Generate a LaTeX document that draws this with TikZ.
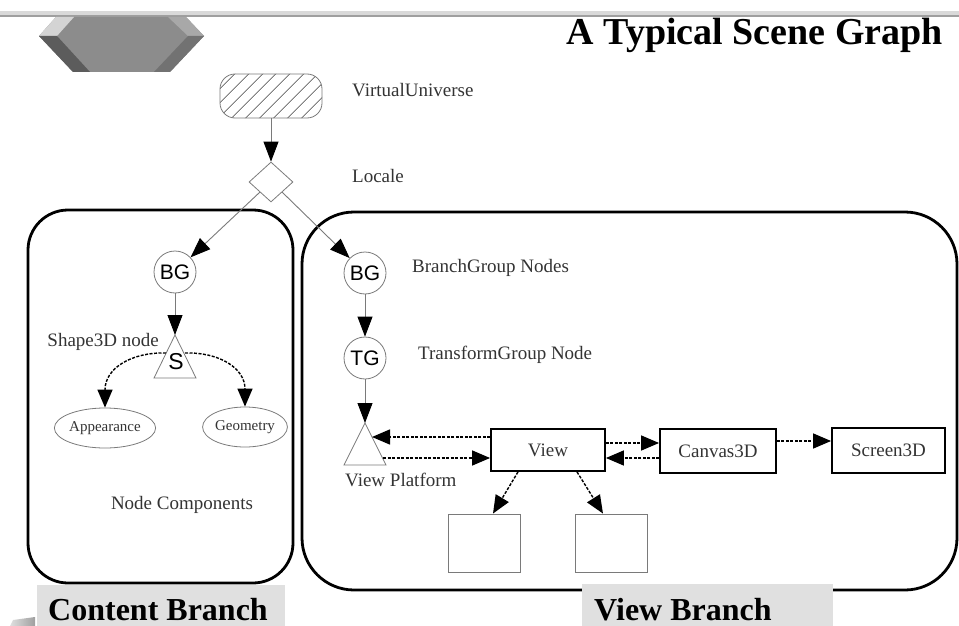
\documentclass[tikz,border=0pt]{standalone}
\usepackage{fontspec}
\setmainfont{Liberation Serif}
\newfontfamily\sansf{Liberation Sans}
\usetikzlibrary{arrows.meta,shapes.geometric,patterns.meta}
\definecolor{lblgray}{HTML}{E0E0E0}
\definecolor{linegray}{HTML}{7A7A7A}
\definecolor{txtgray}{HTML}{333333}
\definecolor{hexmid}{HTML}{8C8C8C}
\definecolor{hexlight}{HTML}{D4D4D4}
\definecolor{hexdark}{HTML}{5C5C5C}
\definecolor{hexrtop}{HTML}{A8A8A8}
\definecolor{hexrbot}{HTML}{727272}
\begin{document}
\begin{tikzpicture}[x=1pt,y=-1pt,
  lbl/.style={font=\fontsize{19}{22}\selectfont, text=txtgray, inner sep=0pt},
  circ/.style={circle, draw=linegray, line width=0.8pt, minimum size=42pt, inner sep=0pt, font=\sansf\fontsize{21}{21}\selectfont},
  tree/.style={draw=linegray, line width=0.9pt, -{Triangle[length=20pt,width=15pt,color=black]}},
  dasharrow/.style={draw=black, line width=1.4pt, dash pattern=on 3pt off 1.5pt, -{Triangle[length=18pt,width=15pt]}},
  bbox/.style={draw=black, line width=1.8pt, inner sep=0pt, font=\fontsize{19}{22}\selectfont, text=txtgray},
  thinbox/.style={draw=linegray, line width=0.9pt, minimum width=72pt, minimum height=58pt, inner sep=0pt},
  frame/.style={draw=black, line width=2.8pt, inner sep=0pt},
  tag/.style={fill=lblgray, inner sep=0pt},
  tagtext/.style={font=\bfseries\fontsize{32}{32}\selectfont, inner sep=0pt, text depth=0pt},
  ell/.style={ellipse, draw=linegray, line width=0.8pt, minimum height=40pt, inner sep=0pt, font=\fontsize{15}{15}\selectfont, text=txtgray},
  tri/.style={draw=linegray, line width=0.8pt}
]
\useasboundingbox (0,0) rectangle (959,626);
% top bar
\fill[gray!30] (0,11) rectangle (959,15);
\fill[gray!75] (0,15) rectangle (959,17);
% hexagon
\fill[hexmid] (39,36) -- (56,17) -- (186,17) -- (204,36) -- (170,72) -- (73,72) -- cycle;
\fill[hexlight] (39,36) -- (56,17) -- (74,17) -- (57,36) -- cycle;
\fill[hexdark] (39,36) -- (57,36) -- (90,72) -- (73,72) -- cycle;
\fill[hexrtop] (186,17) -- (204,36) -- (188,36) -- (168,17) -- cycle;
\fill[hexrbot] (204,36) -- (170,72) -- (154,72) -- (188,36) -- cycle;
% bottom-left fragment
\shade[left color=gray!25, right color=gray!75] (10,626) -- (13,620) -- (35,617) -- (35,626) -- cycle;
% title
\node[font=\bfseries\fontsize{38}{38}\selectfont, anchor=base east, inner sep=0pt] (title) at (943,45) {A Typical Scene Graph};
% frames
\node[frame, rounded corners=40pt, minimum width=265pt, minimum height=373pt] (content) at (160.5,396.5) {};
\node[frame, rounded corners=52pt, minimum width=655pt, minimum height=378pt] (viewbr) at (629.5,401) {};
\node[tag, minimum width=248pt, minimum height=41pt, anchor=north west] (ctag) at (37,585) {};
\node[tagtext, anchor=base west] (ctext) at (48,620) {Content Branch};
\node[tag, minimum width=251pt, minimum height=42pt, anchor=north west] (vtag) at (582,584) {};
\node[tagtext, anchor=base west] (vtext) at (594,620) {View Branch};
% top nodes
\node[draw=linegray, line width=0.8pt, rounded corners=15pt, minimum width=102pt, minimum height=44pt,
      pattern={Lines[angle=45,distance=10.5pt,line width=0.8pt]}, pattern color=darkgray] (vu) at (271,96) {};
\node[diamond, draw=linegray, line width=0.8pt, minimum width=44pt, minimum height=40pt, inner sep=0pt] (loc) at (271,182) {};
\node[lbl, anchor=west] (vulbl) at (352,90) {VirtualUniverse};
\node[lbl, anchor=west] (loclbl) at (352,176) {Locale};
% content branch
\node[circ] (bg1) at (175,272) {BG};
\coordinate (sA) at (175,335);
\coordinate (sBL) at (154,378);
\coordinate (sBR) at (196,378);
\draw[tri] (sA) -- (sBL) -- (sBR) -- cycle;
\node[font=\sansf\fontsize{23}{23}\selectfont, inner sep=0pt] (s) at (176,362) {S};
\node[lbl, anchor=east] (shlbl) at (159,342) {Shape3D node};
\node[ell, minimum width=86pt] (app) at (105,428) {Appearance};
\node[ell, minimum width=84pt] (geo) at (245,427) {Geometry};
\node[lbl] (nclbl) at (182,505) {Node Components};
% view branch
\node[circ] (bg2) at (365,273) {BG};
\node[circ] (tg) at (365,358) {TG};
\node[lbl, anchor=west] (bglbl) at (412,268) {BranchGroup Nodes};
\node[lbl, anchor=west] (tglbl) at (418,355) {TransformGroup Node};
\coordinate (vA) at (365,423);
\coordinate (vBL) at (344,465);
\coordinate (vBR) at (386,465);
\draw[tri] (vA) -- (vBL) -- (vBR) -- cycle;
\node[lbl, anchor=west] (vplbl) at (345,480) {View Platform};
\node[bbox, minimum width=114pt, minimum height=42pt] (view) at (548,450) {View};
\node[bbox, minimum width=116pt, minimum height=44pt] (canvas) at (718,451) {Canvas3D};
\node[bbox, minimum width=113pt, minimum height=45pt] (screen) at (888.5,450.5) {Screen3D};
\node[thinbox] (b1) at (484,543) {};
\node[thinbox] (b2) at (611,543) {};
% tree connectors
\draw[tree] (vu) -- (loc);
\draw[tree] (loc.south west) -- (bg1);
\draw[tree] (loc.south east) -- (bg2);
\draw[tree] (bg1) -- (sA);
\draw[tree] (bg2) -- (tg);
\draw[tree] (tg) -- (vA);
% dashed connectors
\coordinate (sL) at (166,353);
\coordinate (sR) at (185,353);
\draw[dasharrow] (sL) .. controls (132,352) and (105,368) .. (app.north);
\draw[dasharrow] (sR) .. controls (219,352) and (245,368) .. (geo.north);
\coordinate (vR1) at (372,437);
\coordinate (vR2) at (383,458);
\draw[dasharrow] (view.west |- vR1) -- (vR1);
\draw[dasharrow] (vR2) -- (view.west |- vR2);
\draw[dasharrow] ([yshift=7pt]view.east) -- ([yshift=7pt]view.east -| canvas.west);
\draw[dasharrow] ([yshift=-7pt]canvas.west) -- ([yshift=-7pt]canvas.west -| view.east);
\draw[dasharrow] ([yshift=10pt]canvas.east) -- ([yshift=10pt]canvas.east -| screen.west);
\draw[dasharrow] ([xshift=-30pt]view.south) -- ([xshift=9pt]b1.north);
\draw[dasharrow] ([xshift=29pt]view.south) -- ([xshift=-8pt]b2.north);
\end{tikzpicture}
\end{document}
